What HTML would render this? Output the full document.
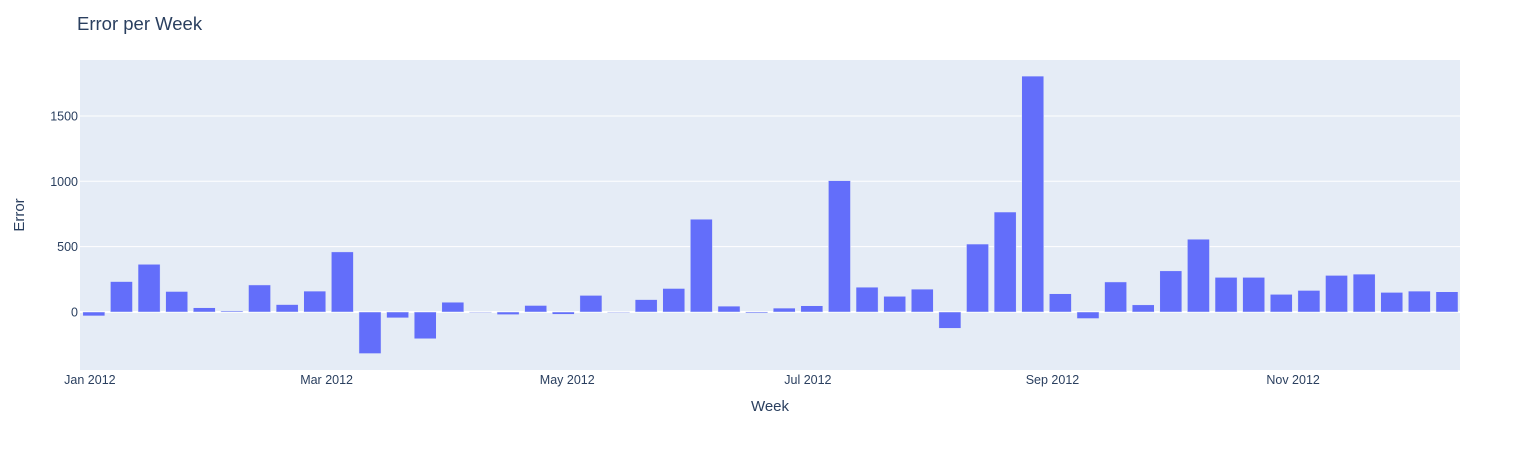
<!DOCTYPE html>
<html><head><meta charset="utf-8"><style>
body{margin:0;background:#fff;font-family:"Liberation Sans",sans-serif}
</style></head><body>
<svg id="chart" width="1540" height="450" xmlns="http://www.w3.org/2000/svg">
<rect x="0" y="0" width="1540" height="450" fill="#fff"/>
<text x="77" y="30" font-size="18.5" fill="#2a3f5f">Error per Week</text>
<rect x="80" y="60" width="1380" height="310" fill="#e5ecf6"/>
<g id="grid"></g><g id="bars"></g><g id="yticks"></g><g id="xticks"></g>
<text x="770" y="411" font-size="15" fill="#2a3f5f" text-anchor="middle">Week</text>
<text transform="translate(24,215) rotate(-90)" font-size="15" fill="#2a3f5f" text-anchor="middle">Error</text>
</svg>
<script>
const weekOffsetDays = [1,8,15,22,29,36,43,50,57,64,71,78,85,92,99,106,113,120,127,134,141,148,155,162,169,176,183,190,197,204,211,218,225,232,239,246,253,260,267,274,281,288,295,302,309,316,323,330,337,344];
const errorValues = [-30,233,365,157,33,8,207,57,160,460,-318,-45,-205,75,-5,-20,50,-18,127,-5,95,180,710,45,-8,30,48,1005,190,120,175,-125,520,765,1805,140,-50,230,55,315,557,265,265,135,165,280,290,150,160,155];
const yTickValues = [0,500,1000,1500];
const xTickDays = [0,60,121,182,244,305];
const xTickLabels = ["Jan 2012","Mar 2012","May 2012","Jul 2012","Sep 2012","Nov 2012"];
const NS="http://www.w3.org/2000/svg";
const X0=89.9, PXD=3.945;
const Y0=312, PXU=0.1307;
function xs(d){return X0+d*PXD;}
function ys(v){return Y0-v*PXU;}
function mk(tag,attrs,parent){const e=document.createElementNS(NS,tag);for(const k in attrs)e.setAttribute(k,attrs[k]);document.getElementById(parent).appendChild(e);return e;}
yTickValues.forEach(v=>{
  if(v!==0){const g=mk('line',{x1:80,x2:1460,y1:ys(v),y2:ys(v),stroke:'#fff','stroke-width':1},'grid');
  
  }
  const t=mk('text',{x:78,y:ys(v)+4.5,'font-size':12.5,fill:'#2a3f5f','text-anchor':'end'},'yticks');
  t.textContent=v;
  
  
});
const bw=7*0.8*PXD;
errorValues.forEach((v,i)=>{
  const cx=xs(weekOffsetDays[i]);
  let x1=Math.max(80,cx-bw/2), x2=cx+bw/2;
  const y=Math.min(ys(v),Y0), h=Math.abs(ys(v)-Y0);
  const r=mk('rect',{x:x1,y:y,width:x2-x1,height:h,fill:'#636efa',stroke:'#e5ecf6','stroke-width':0.5},'bars');
  
  
});
const z=mk('line',{x1:80,x2:1460,y1:Y0,y2:Y0,stroke:'#fff','stroke-width':2},'grid');


xTickDays.forEach((d,i)=>{
  const t=mk('text',{x:xs(d),y:384,'font-size':12.5,fill:'#2a3f5f','text-anchor':'middle'},'xticks');
  t.textContent=xTickLabels[i];
  
  
});
</script>
</body></html>
